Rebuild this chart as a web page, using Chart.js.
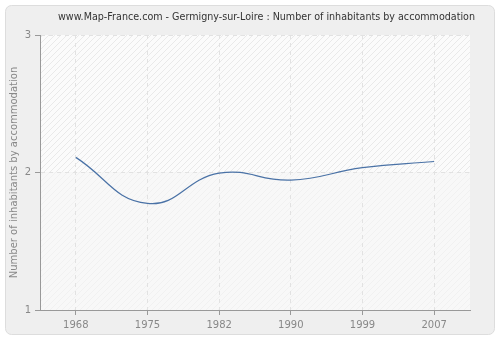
<!DOCTYPE html>
<html lang="en">
<head>
  <meta charset="UTF-8" />
  <title>Germigny-sur-Loire - inhabitants by accommodation</title>
  <script src="https://cdn.jsdelivr.net/npm/chart.js"></script>
  <style>
    html, body { margin: 0; padding: 0; background: #ffffff; }
    #wrap { width: 500px; height: 340px; }
  </style>
</head>
<body>
  <div id="wrap"><canvas id="chart" width="500" height="340"></canvas></div>

  <script>
    // data
    const years = ['1968', '1975', '1982', '1990', '1999', '2007'];
    const inhabitantsPerHome = [2.11, 1.775, 1.995, 1.945, 2.035, 2.08];
    const yTicks = [1, 2, 3];
    const chartTitle = 'www.Map-France.com - Germigny-sur-Loire : Number of inhabitants by accommodation';

    const FONT = 'DejaVu Sans, Verdana, sans-serif';

    // hatch pattern for the plot background
    function makeHatch(bg, line) {
      const c = document.createElement('canvas');
      c.width = 6; c.height = 6;
      const g = c.getContext('2d');
      g.fillStyle = bg;
      g.fillRect(0, 0, 6, 6);
      g.strokeStyle = line;
      g.lineWidth = 1;
      g.beginPath();
      g.moveTo(0, 6); g.lineTo(6, 0);
      g.moveTo(-1, 1); g.lineTo(1, -1);
      g.moveTo(5, 7); g.lineTo(7, 5);
      g.stroke();
      return c;
    }

    const backgroundPlugin = {
      id: 'panelBg',
      beforeDraw(chart) {
        const ctx = chart.ctx;
        const { left, right, top, bottom } = chart.chartArea;
        ctx.save();
        ctx.fillStyle = '#ffffff';
        ctx.fillRect(0, 0, chart.width, chart.height);
        // rounded outer panel
        ctx.beginPath();
        ctx.roundRect(5.5, 5.5, 489, 329, 6);
        ctx.fillStyle = '#efefef';
        ctx.fill();
        ctx.strokeStyle = '#dddddd';
        ctx.lineWidth = 1;
        ctx.stroke();
        // plot area: stronger hatch above 2, lighter below
        const yMid = chart.scales.y.getPixelForValue(2);
        ctx.fillStyle = ctx.createPattern(makeHatch('#fbfbfb', '#e9e9e9'), 'repeat');
        ctx.fillRect(left, top, right - left, yMid - top);
        ctx.fillStyle = ctx.createPattern(makeHatch('#f8f8f8', '#f1f1f1'), 'repeat');
        ctx.fillRect(left, yMid, right - left, bottom - yMid);
        // title
        ctx.fillStyle = '#333333';
        ctx.font = '11px ' + FONT;
        ctx.textAlign = 'center';
        ctx.textBaseline = 'middle';
        ctx.fillText(chartTitle, 266.5, 17, 417);
        ctx.restore();
      }
    };

    new Chart(document.getElementById('chart'), {
      type: 'line',
      data: {
        labels: years,
        datasets: [{
          data: inhabitantsPerHome,
          borderColor: '#4a72a6',
          borderWidth: 1.2,
          pointRadius: 0,
          fill: false,
          tension: 0.45
        }]
      },
      options: {
        responsive: false,
        animation: false,
        layout: { padding: { left: 8, right: 30, top: 35, bottom: 8 } },
        plugins: {
          legend: { display: false },
          tooltip: { enabled: false },
          title: { display: false }
        },
        scales: {
          x: {
            offset: true,
            grid: {
              offset: false,
              color: '#e2e2e2',
              tickColor: '#999999',
              tickLength: 5,
              tickBorderDash: [],
              drawOnChartArea: true
            },
            border: { color: '#999999', dash: [4, 4] },
            ticks: { color: '#888888', font: { family: FONT, size: 10 }, padding: 4 },
            afterFit(scale) { scale.height = 22; }
          },
          y: {
            min: 1,
            max: 3,
            afterBuildTicks(scale) { scale.ticks = yTicks.map(v => ({ value: v })); },
            grid: {
              color: '#e2e2e2',
              tickColor: '#999999',
              tickLength: 5,
              tickBorderDash: []
            },
            border: { color: '#999999', dash: [4, 4] },
            ticks: { color: '#888888', font: { family: FONT, size: 10 }, padding: 4 },
            title: {
              display: true,
              text: 'Number of inhabitants by accommodation',
              color: '#888888',
              font: { family: FONT, size: 10 },
              padding: { top: 0, bottom: 2 }
            },
            afterFit(scale) { scale.width = 32; }
          }
        }
      },
      plugins: [backgroundPlugin]
    });
  </script>
</body>
</html>
